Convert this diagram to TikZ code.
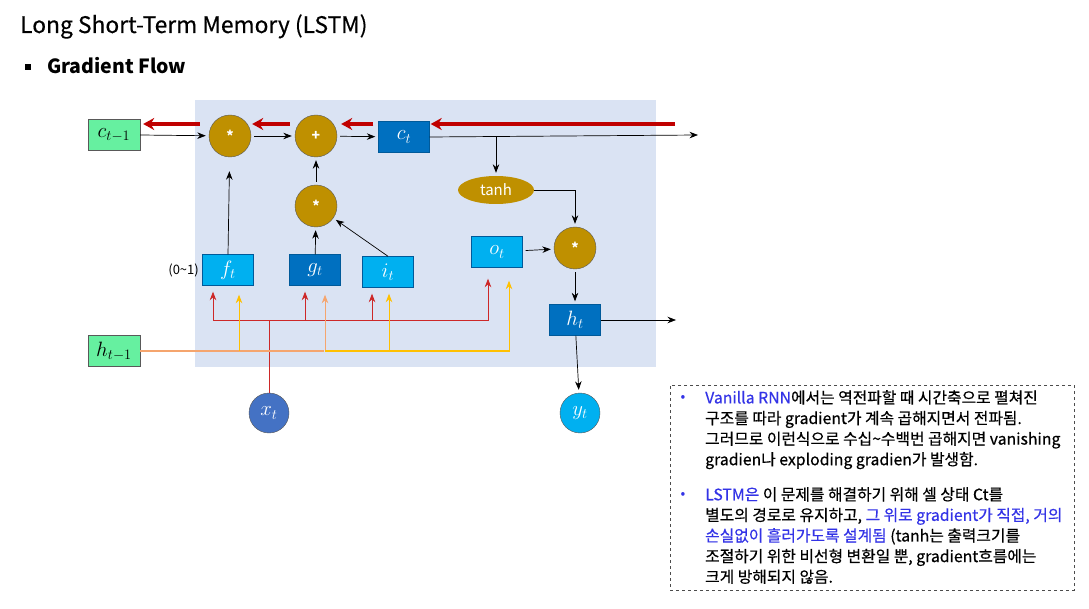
\documentclass[tikz,border=0pt]{standalone}
\usepackage{fontspec}
\setmainfont{Noto Sans CJK KR}
\usepackage{tikz}
\usetikzlibrary{arrows,arrows.meta,calc,positioning,shapes,shapes.geometric}
\definecolor{cellbg}{RGB}{218,227,243}
\definecolor{stategreen}{RGB}{102,240,160}
\definecolor{opgold}{RGB}{191,144,0}
\definecolor{darkblue}{RGB}{0,112,192}
\definecolor{lightblue}{RGB}{0,176,240}
\definecolor{xblue}{RGB}{68,114,196}
\definecolor{gradred}{RGB}{192,0,0}
\definecolor{xred}{RGB}{205,40,40}
\definecolor{hyellow}{RGB}{255,192,0}
\definecolor{hpeach}{RGB}{245,165,110}
\definecolor{noteblue}{RGB}{51,51,230}
\tikzset{>={Stealth[length=8.5pt,width=6.5pt]},shorten >=1pt}
\tikzset{
  statebox/.style={rectangle,draw=gray!70!black,fill=stategreen,minimum width=52pt,minimum height=31pt,font=\huge},
  lightbox/.style={rectangle,draw=darkblue!80!black,fill=lightblue,text=white,minimum width=51pt,minimum height=31pt,font=\huge},
  darkbox/.style={lightbox,fill=darkblue},
  opcirc/.style={circle,draw=gray!70!black,fill=opgold,text=white,minimum size=42pt,font=\fontsize{14}{16}\bfseries},
  tanhell/.style={ellipse,fill=opgold,text=white,minimum width=76pt,minimum height=28pt,font=\fontsize{15}{18}\selectfont},
  iocirc/.style={circle,draw=gray!70!black,minimum size=40pt,text=white,font=\huge},
  flow/.style={->,line width=0.7pt,shorten >=3pt,shorten <=3pt},
  gradarrow/.style={-{Stealth[length=11pt,width=12pt]},draw=gradred,line width=3.5pt},
  xline/.style={draw=xred,line width=0.8pt},
  hline/.style={draw=hyellow,line width=1pt},
  hpeachline/.style={draw=hpeach,line width=1pt},
  notetext/.style={align=left,font=\fontsize{15.8}{20.6}\selectfont\addfontfeature{FakeBold=0.5}}
}

\begin{document}
\begin{tikzpicture}[x=1pt,y=1pt]
\tikzstyle{every node}+=[inner sep=0pt]
\useasboundingbox (0,0) rectangle (1089,-609);
\fill[cellbg] (195,-100) rectangle (656,-367);

\node[anchor=base west,font=\fontsize{22.8}{26}\selectfont\addfontfeature{FakeBold=0.4}] (title) at (20,-33) {Long Short-Term Memory (LSTM)};
\node[fill=black,minimum size=6pt] (bullet) at (28,-67) {};
\node[anchor=base west,font=\fontsize{19.5}{22}\bfseries] (sub) at (47,-74) {Gradient Flow};

\node[statebox] (cprev) at (114,-135) {$c_{t-1}$};
\node[opcirc] (mulf) at (230,-136) {*};
\node[opcirc] (addc) at (316,-136) {+};
\node[darkbox] (ct) at (404,-137) {$c_t$};
\node[tanhell] (tanh) at (496,-190) {tanh};
\node[opcirc] (mulo) at (575,-248) {*};
\node[lightbox] (ot) at (497,-252) {$o_t$};
\node[darkbox] (ht) at (575,-320) {$h_t$};
\node[opcirc] (mulg) at (316,-206) {*};
\node[lightbox] (ft) at (228,-270) {$f_t$};
\node[darkbox] (gt) at (315,-270) {$g_t$};
\node[lightbox] (it) at (388,-272) {$i_t$};
\node[anchor=east,font=\fontsize{13}{15}\selectfont] (range) at (199,-270) {(0\textasciitilde 1)};
\node[statebox] (hprev) at (114,-351) {$h_{t-1}$};
\node[iocirc,fill=xblue] (xt) at (269,-413) {$x_t$};
\node[iocirc,fill=lightblue] (yt) at (580,-413) {$y_t$};
\coordinate (cnext) at (698,-135);
\coordinate (hnext) at (676,-320);
\coordinate (gradin) at (675,-124);
\coordinate (rbus) at (269,-320);
\coordinate (yj) at (325,-351);

\draw[flow,shorten <=0pt] (cprev.east) -- (mulf);
\draw[flow] (mulf) -- (addc);
\draw[flow] (addc) -- (ct);
\draw[flow,shorten <=0pt,shorten >=0pt] (ct.east) -- (cnext);
\draw[flow,shorten <=0pt] (tanh |- ct.east) -- (tanh);
\draw[flow,shorten <=0pt] (tanh.east) -| (mulo.north);
\draw[flow] (ot) -- (mulo);
\draw[flow] (mulo) -- (ht);
\draw[flow,shorten <=0pt,shorten >=0pt] (ht.east) -- (hnext);
\draw[flow,shorten <=0pt] (ht) -- (yt);
\draw[flow,shorten <=0pt,shorten >=14pt] (ft.north) -- (mulf);
\draw[flow,shorten <=0pt] (gt) -- (mulg);
\draw[flow,shorten <=0pt] (it.north) -- (mulg);
\draw[flow] (mulg) -- (addc);

\draw[gradarrow] (gradin) -- (ct.east |- gradin);
\draw[gradarrow] ([xshift=-5pt]ct.west |- gradin) -- ([xshift=3pt]addc.east |- gradin);
\draw[gradarrow] ([xshift=-5pt]addc.west |- gradin) -- (mulf.east |- gradin);
\draw[gradarrow] ([xshift=-9pt]mulf.west |- gradin) -- ([xshift=2pt]cprev.east |- gradin);

\draw[xline] (xt) -- (rbus);
\draw[xline,->,shorten >=6pt] (rbus) -| ([xshift=-15pt]ft.south);
\draw[xline,->,shorten >=6pt] (rbus) -| ([xshift=-10pt]gt.south);
\draw[xline,->,shorten >=6pt] (rbus) -| ([xshift=-16pt]it.south);
\draw[xline,->,shorten >=11pt] (rbus) -| ([xshift=-9pt]ot.south);

\draw[hpeachline] (hprev.east) -- (yj);
\draw[hpeachline,->,shorten >=9pt] (yj) -- ([xshift=10pt]gt.south);
\draw[hline,->,shorten >=9pt] ([xshift=11pt]ft.south |- yj) -- ([xshift=11pt]ft.south);
\draw[hline,->,shorten >=6pt] (yj) -| ([xshift=1pt]it.south);
\draw[hline,->,shorten >=13pt] (yj) -| ([xshift=12pt]ot.south);

\node[draw=gray!60!black,dashed,minimum width=404pt,minimum height=205pt] (note) at (872,-487.5) {};
\node[text=noteblue,font=\fontsize{14}{16}\selectfont] (dot1) at (683,-398) {•};
\node[text=noteblue,font=\fontsize{14}{16}\selectfont] (dot2) at (683,-495) {•};
\node[notetext,anchor=north west] (para1) at (705,-390) {\textcolor{noteblue}{Vanilla RNN}에서는 역전파할 때 시간축으로 펼쳐진\\구조를 따라 gradient가 계속 곱해지면서 전파됨.\\그러므로 이런식으로 수십\textasciitilde 수백번 곱해지면 vanishing\\gradien나 exploding gradien가 발생함.};
\node[notetext,anchor=north west] (para2) at (705,-487) {\textcolor{noteblue}{LSTM은} 이 문제를 해결하기 위해 셀 상태 Ct를\\별도의 경로로 유지하고, \textcolor{noteblue}{그 위로 gradient가 직접, 거의}\\\textcolor{noteblue}{손실없이 흘러가도록 설계됨} (tanh는 출력크기를\\조절하기 위한 비선형 변환일 뿐, gradient흐름에는\\크게 방해되지 않음.};
\end{tikzpicture}
\end{document}
